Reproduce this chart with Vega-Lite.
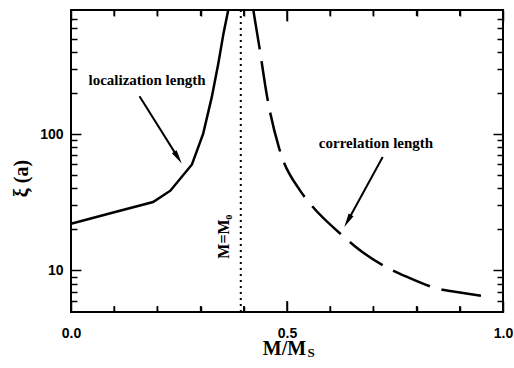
{
  "$schema": "https://vega.github.io/schema/vega-lite/v6.json",
  "width": 432,
  "height": 302,
  "autosize": "none",
  "padding": {"left": 71, "top": 10, "right": 11, "bottom": 56},
  "background": "white",
  "config": {
    "view": {"stroke": "black", "strokeWidth": 2},
    "axis": {
      "domain": false,
      "grid": false,
      "ticks": true,
      "tickColor": "black",
      "tickOpacity": 1,
      "tickWidth": 1.5,
      "labelFont": "Liberation Sans",
      "labelFontWeight": "bold",
      "labelFontSize": 14,
      "labelColor": "black",
      "titleFont": "Liberation Serif",
      "titleFontWeight": "bold",
      "titleFontSize": 20,
      "titleColor": "black"
    }
  },
  "datasets": {
    "curves": [
      {"series": "localization", "M": 0.0, "xi": 22.0},
      {"series": "localization", "M": 0.1, "xi": 26.7},
      {"series": "localization", "M": 0.19, "xi": 31.8},
      {"series": "localization", "M": 0.23, "xi": 38.5},
      {"series": "localization", "M": 0.28, "xi": 60},
      {"series": "localization", "M": 0.306, "xi": 101},
      {"series": "localization", "M": 0.326, "xi": 188},
      {"series": "localization", "M": 0.341, "xi": 331},
      {"series": "localization", "M": 0.353, "xi": 550},
      {"series": "localization", "M": 0.364, "xi": 817},
      {"series": "correlation", "M": 0.422, "xi": 817},
      {"series": "correlation", "M": 0.436, "xi": 438},
      {"series": "correlation", "M": 0.454, "xi": 188},
      {"series": "correlation", "M": 0.482, "xi": 78.5},
      {"series": "correlation", "M": 0.53, "xi": 38.7},
      {"series": "correlation", "M": 0.552, "xi": 31.3},
      {"series": "correlation", "M": 0.634, "xi": 17.4},
      {"series": "correlation", "M": 0.66, "xi": 14.8},
      {"series": "correlation", "M": 0.748, "xi": 9.88},
      {"series": "correlation", "M": 0.775, "xi": 9.04},
      {"series": "correlation", "M": 0.86, "xi": 7.21},
      {"series": "correlation", "M": 0.885, "xi": 7.0},
      {"series": "correlation", "M": 0.972, "xi": 6.36}
    ],
    "labels": [
      {"M": 0.176, "xi": 249, "text": "localization length"},
      {"M": 0.706, "xi": 86.6, "text": "correlation length"}
    ],
    "arrows": [
      {"name": "loc", "M": 0.1586, "xi": 190.3, "M2": 0.2477, "xi2": 67.3},
      {"name": "cor", "M": 0.7215, "xi": 68.1, "M2": 0.6405, "xi2": 23.08}
    ],
    "xticks": [
      {"M": 0.1, "kind": "minor"},
      {"M": 0.2, "kind": "minor"},
      {"M": 0.3, "kind": "minor"},
      {"M": 0.4, "kind": "minor"},
      {"M": 0.5, "kind": "major"},
      {"M": 0.6, "kind": "minor"},
      {"M": 0.7, "kind": "minor"},
      {"M": 0.8, "kind": "minor"},
      {"M": 0.9, "kind": "minor"}
    ]
  },
  "layer": [
    {
      "data": {"name": "curves"},
      "transform": [{"filter": "datum.series == 'localization'"}],
      "mark": {"type": "line", "color": "black", "strokeWidth": 2.5},
      "encoding": {
        "x": {
          "field": "M", "type": "quantitative",
          "scale": {"domain": [0, 1], "nice": false, "zero": false},
          "axis": {
            "orient": "bottom",
            "ticks": true,
            "values": [0, 0.1, 0.2, 0.3, 0.4, 0.5, 0.6, 0.7, 0.8, 0.9, 1],
            "labelExpr": "datum.value == 0 ? '0.0' : datum.value == 0.5 ? '0.5' : datum.value == 1 ? '1.0' : ''",
            "tickSize": {"condition": {"test": "datum.value == 0 || datum.value == 0.5 || datum.value == 1", "value": -11}, "value": -6},
            "labelPadding": 25,
            "labelFlush": false,
            "title": "M/M",
            "titleX": 213,
            "titleY": 42,
            "titleAnchor": null,
            "titleBaseline": "alphabetic",
            "titleAlign": "center"
          }
        },
        "y": {
          "field": "xi", "type": "quantitative",
          "scale": {"type": "log", "domain": [4.95, 817], "nice": false},
          "axis": {
            "orient": "left",
            "ticks": true,
            "values": [6, 7, 8, 9, 10, 20, 30, 40, 50, 60, 70, 80, 90, 100, 200, 300, 400, 500, 600, 700],
            "labelExpr": "datum.value == 10 ? '10' : datum.value == 100 ? '100' : ''",
            "tickSize": {"condition": {"test": "datum.value == 10 || datum.value == 100", "value": -10}, "value": -6},
            "labelPadding": 18,
            "labelFlush": false,
            "title": "ξ (a)",
            "titleX": -50,
            "titleY": 168,
            "titleAngle": -90,
            "titleAlign": "center",
            "titleBaseline": "middle"
          }
        }
      }
    },
    {
      "data": {"name": "curves"},
      "transform": [{"filter": "datum.series == 'correlation'"}],
      "mark": {"type": "line", "color": "black", "strokeWidth": 2.5, "strokeDash": [40, 12], "interpolate": "monotone"},
      "encoding": {
        "x": {
          "field": "M", "type": "quantitative",
          "axis": {
            "orient": "top",
            "ticks": true,
            "values": [0, 0.1, 0.2, 0.3, 0.4, 0.5, 0.6, 0.7, 0.8, 0.9, 1],
            "labels": false,
            "tickSize": {"condition": {"test": "datum.value == 0 || datum.value == 0.5 || datum.value == 1", "value": -11}, "value": -6},
            "title": null
          }
        },
        "y": {
          "field": "xi", "type": "quantitative",
          "axis": {
            "orient": "right",
            "ticks": true,
            "values": [6, 7, 8, 9, 10, 20, 30, 40, 50, 60, 70, 80, 90, 100, 200, 300, 400, 500, 600, 700],
            "labels": false,
            "tickSize": {"condition": {"test": "datum.value == 10 || datum.value == 100", "value": -10}, "value": -6},
            "title": null
          }
        }
      }
    },
    {
      "data": {"name": "xticks"},
      "transform": [{"filter": "datum.kind == 'minor'"}],
      "mark": {"type": "tick", "orient": "vertical", "color": "black", "opacity": 1, "thickness": 1.5, "size": 6, "yOffset": -3},
      "encoding": {
        "x": {"field": "M", "type": "quantitative", "axis": null},
        "y": {"datum": 4.95, "type": "quantitative", "axis": null}
      }
    },
    {
      "data": {"name": "xticks"},
      "transform": [{"filter": "datum.kind == 'major'"}],
      "mark": {"type": "tick", "orient": "vertical", "color": "black", "opacity": 1, "thickness": 1.5, "size": 11, "yOffset": -5.5},
      "encoding": {
        "x": {"field": "M", "type": "quantitative", "axis": null},
        "y": {"datum": 4.95, "type": "quantitative", "axis": null}
      }
    },
    {
      "data": {"name": "xticks"},
      "transform": [{"filter": "datum.kind == 'minor'"}],
      "mark": {"type": "tick", "orient": "vertical", "color": "black", "opacity": 1, "thickness": 1.5, "size": 6, "yOffset": 3},
      "encoding": {
        "x": {"field": "M", "type": "quantitative", "axis": null},
        "y": {"datum": 817, "type": "quantitative", "axis": null}
      }
    },
    {
      "data": {"name": "xticks"},
      "transform": [{"filter": "datum.kind == 'major'"}],
      "mark": {"type": "tick", "orient": "vertical", "color": "black", "opacity": 1, "thickness": 1.5, "size": 11, "yOffset": 5.5},
      "encoding": {
        "x": {"field": "M", "type": "quantitative", "axis": null},
        "y": {"datum": 817, "type": "quantitative", "axis": null}
      }
    },
    {
      "data": {"values": [{"M": 0.393}]},
      "mark": {"type": "rule", "color": "black", "strokeWidth": 2, "strokeDash": [2, 4]},
      "encoding": {
        "x": {"field": "M", "type": "quantitative", "axis": null}
      }
    },
    {
      "data": {"name": "labels"},
      "mark": {"type": "text", "font": "Liberation Serif", "fontWeight": "bold", "fontSize": 15, "color": "black", "align": "center", "baseline": "middle"},
      "encoding": {
        "x": {"field": "M", "type": "quantitative", "axis": null},
        "y": {"field": "xi", "type": "quantitative", "axis": null},
        "text": {"field": "text"}
      }
    },
    {
      "data": {"values": [{"M": 0.354, "xi": 17.7, "text": "M=M₀"}]},
      "mark": {"type": "text", "font": "Liberation Serif", "fontWeight": "bold", "fontSize": 16, "color": "black", "align": "center", "baseline": "middle", "angle": 270},
      "encoding": {
        "x": {"field": "M", "type": "quantitative", "axis": null},
        "y": {"field": "xi", "type": "quantitative", "axis": null},
        "text": {"field": "text"}
      }
    },
    {
      "data": {"values": [{"M": 0.556, "xi": 2.3, "text": "S"}]},
      "mark": {"type": "text", "font": "Liberation Serif", "fontWeight": "bold", "fontSize": 13, "color": "black", "align": "center", "baseline": "alphabetic"},
      "encoding": {
        "x": {"field": "M", "type": "quantitative", "axis": null},
        "y": {"field": "xi", "type": "quantitative", "axis": null},
        "text": {"field": "text"}
      }
    },
    {
      "data": {"name": "arrows"},
      "mark": {"type": "rule", "color": "black", "strokeWidth": 2},
      "encoding": {
        "x": {"field": "M", "type": "quantitative", "axis": null},
        "y": {"field": "xi", "type": "quantitative", "axis": null},
        "x2": {"field": "M2"},
        "y2": {"field": "xi2"}
      }
    },
    {
      "data": {"name": "arrows"},
      "transform": [{"filter": "datum.name == 'loc'"}],
      "mark": {"type": "point", "shape": "M0,-1L0.4,1L-0.4,1Z", "filled": true, "color": "black", "opacity": 1, "size": 196, "angle": 147.9},
      "encoding": {
        "x": {"field": "M2", "type": "quantitative", "axis": null},
        "y": {"field": "xi2", "type": "quantitative", "axis": null}
      }
    },
    {
      "data": {"name": "arrows"},
      "transform": [{"filter": "datum.name == 'cor'"}],
      "mark": {"type": "point", "shape": "M0,-1L0.4,1L-0.4,1Z", "filled": true, "color": "black", "opacity": 1, "size": 196, "angle": 208.7},
      "encoding": {
        "x": {"field": "M2", "type": "quantitative", "axis": null},
        "y": {"field": "xi2", "type": "quantitative", "axis": null}
      }
    }
  ],
  "resolve": {"axis": {"x": "independent", "y": "independent"}}
}
